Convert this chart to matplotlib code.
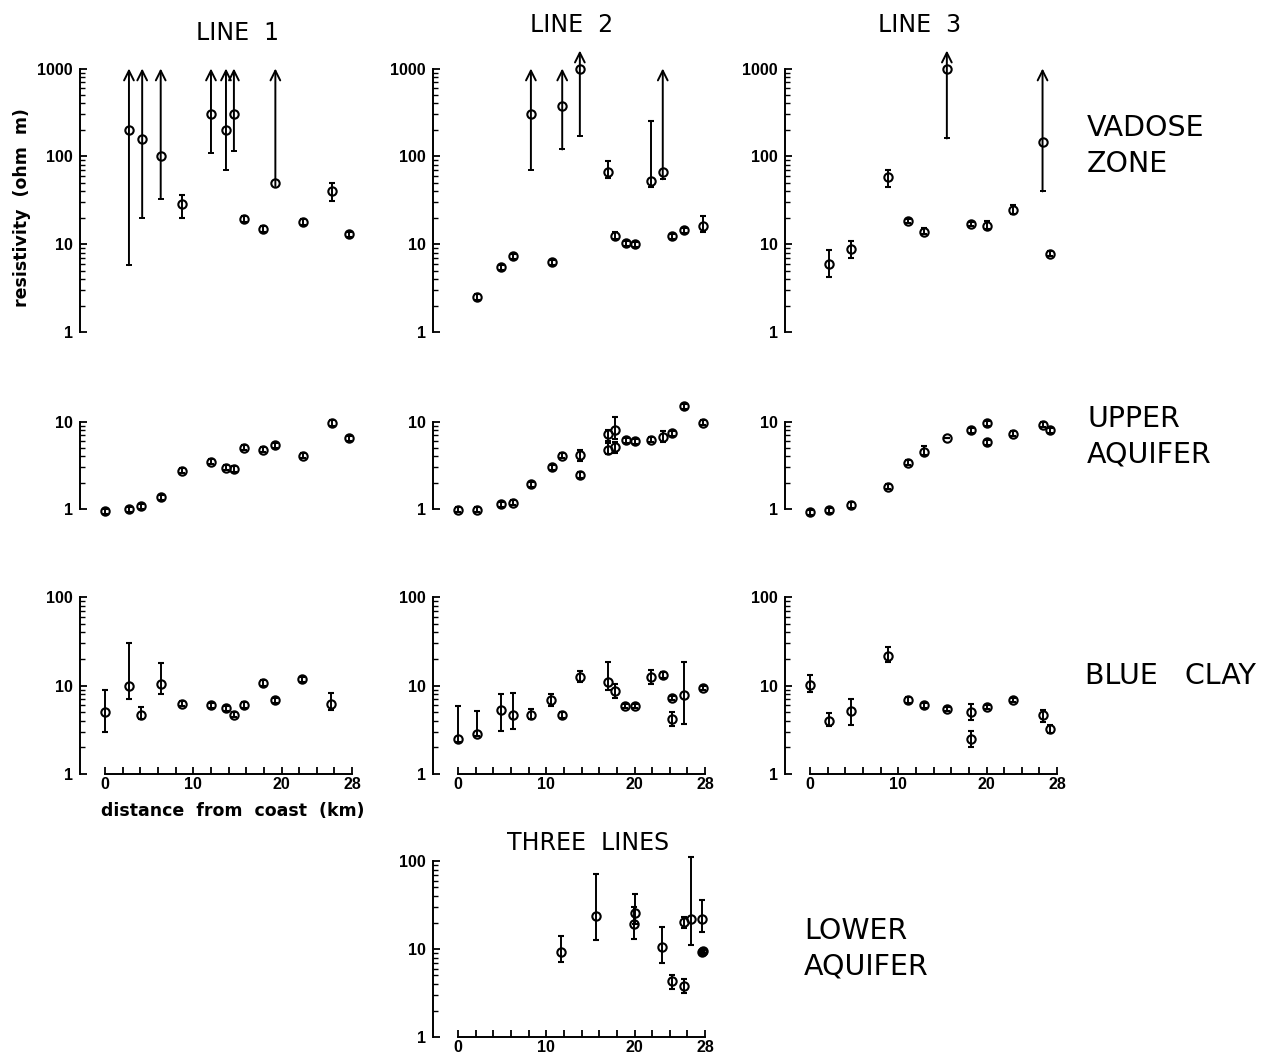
import matplotlib
matplotlib.use("Agg")
import matplotlib.pyplot as plt
from matplotlib.font_manager import FontProperties
from matplotlib.ticker import FixedLocator, FixedFormatter, NullFormatter
import numpy as np

# ---- data: distance from coast (km), resistivity (ohm m), error range ----
# vadose zone
l1_vad_x = [2.7, 4.2, 6.3, 8.7, 12.0, 13.7, 14.6, 15.8, 17.9, 19.3, 22.4, 25.7, 27.6]
l1_vad_v = [200, 157, 100, 29, 300, 200, 300, 19.5, 15, 50, 18, 40, 13]
l1_vad_lo = [5.8, 20, 33, 20, 110, 70, 115, 18, 14, 46, 16.5, 31, 12]
l1_vad_hi = [1000, 1000, 1000, 36, 1000, 1000, 1000, 21, 16, 1000, 19.5, 50, 14]
l1_vad_arrow = [1, 1, 1, 0, 1, 1, 1, 0, 0, 1, 0, 0, 0]

l2_vad_x = [2.1, 4.9, 6.2, 8.25, 10.6, 11.8, 13.8, 17.0, 17.8, 19.0, 20.0, 21.9, 23.2, 24.2, 25.6, 27.8]
l2_vad_v = [2.5, 5.5, 7.3, 300, 6.3, 375, 1000, 67, 12.5, 10.3, 10, 52, 67, 12.3, 14.5, 16]
l2_vad_lo = [2.3, 5.1, 6.8, 70, 5.9, 120, 170, 57, 11.5, 9.6, 9.3, 45, 55, 11.5, 13.5, 14]
l2_vad_hi = [2.7, 5.9, 7.8, 1000, 6.7, 1000, 1600, 89, 14, 11, 10.7, 250, 1000, 13.2, 15.5, 21]
l2_vad_arrow = [0, 0, 0, 1, 0, 1, 1, 0, 0, 0, 0, 0, 1, 0, 0, 0]

l3_vad_x = [2.15, 4.6, 8.8, 11.05, 12.9, 15.5, 18.2, 20.0, 23.0, 26.35, 27.15]
l3_vad_v = [6.0, 8.8, 58, 18.5, 14, 1000, 17, 16, 24.5, 145, 7.8]
l3_vad_lo = [4.2, 7.0, 45, 17.5, 13, 160, 16, 15, 22, 40, 7.3]
l3_vad_hi = [8.7, 10.8, 70, 19.5, 15.2, 1600, 18, 18.5, 28, 1000, 8.3]
l3_vad_arrow = [0, 0, 0, 0, 0, 1, 0, 0, 0, 1, 0]

# upper aquifer
l1_up_x = [0, 2.7, 4.1, 6.3, 8.7, 12.05, 13.75, 14.6, 15.8, 17.95, 19.3, 22.4, 25.7, 27.6]
l1_up_v = [0.94, 0.99, 1.08, 1.37, 2.75, 3.48, 2.97, 2.87, 5.0, 4.74, 5.36, 4.05, 9.6, 6.4]
l1_up_lo = [0.88, 0.93, 1.01, 1.28, 2.57, 3.25, 2.78, 2.68, 4.68, 4.43, 5.0, 3.79, 9.0, 6.0]
l1_up_hi = [1.0, 1.06, 1.15, 1.46, 2.94, 3.72, 3.18, 3.07, 5.35, 5.07, 5.73, 4.33, 10.3, 6.85]

l2_up_x = [0, 2.1, 4.9, 6.2, 8.25, 10.6, 11.8, 13.8, 13.8, 17.0, 17.0, 17.8, 17.8,
           19.0, 20.0, 21.9, 23.2, 24.2, 25.6, 27.8]
l2_up_v = [0.98, 0.98, 1.13, 1.18, 1.93, 3.0, 4.05, 4.19, 2.45, 7.2, 4.7, 7.9, 5.1,
           6.1, 5.95, 6.2, 6.6, 7.35, 15.0, 9.7]
l2_up_lo = [0.92, 0.92, 1.06, 1.1, 1.8, 2.8, 3.8, 3.5, 2.28, 6.0, 4.3, 6.3, 4.4,
            5.7, 5.55, 5.8, 5.8, 6.9, 14.0, 9.1]
l2_up_hi = [1.05, 1.05, 1.21, 1.26, 2.06, 3.2, 4.33, 4.7, 2.62, 7.9, 5.7, 11.4, 5.9,
            6.5, 6.35, 6.6, 7.7, 7.85, 16.0, 10.4]

l3_up_x = [0, 2.15, 4.6, 8.8, 11.05, 12.9, 15.5, 18.2, 20.0, 20.0, 23.0, 26.35, 27.15]
l3_up_v = [0.92, 0.97, 1.11, 1.80, 3.39, 4.46, 6.56, 7.9, 9.5, 5.8, 7.2, 9.15, 7.95]
l3_up_lo = [0.86, 0.91, 1.04, 1.68, 3.17, 4.1, 6.56, 7.4, 8.9, 5.4, 6.75, 8.55, 7.45]
l3_up_hi = [0.98, 1.04, 1.19, 1.93, 3.63, 5.2, 6.56, 8.45, 10.2, 6.2, 7.7, 9.8, 8.5]

# blue clay
l1_bc_x = [0, 2.65, 4.1, 6.3, 8.7, 12.0, 13.7, 14.6, 15.8, 17.9, 19.3, 22.3, 25.6]
l1_bc_v = [4.96, 10, 4.6, 10.4, 6.2, 5.95, 5.5, 4.7, 6.05, 10.7, 6.8, 11.7, 6.2]
l1_bc_lo = [3.0, 7.0, 4.2, 8.0, 5.8, 5.6, 5.1, 4.4, 5.6, 10.0, 6.3, 11.0, 5.3]
l1_bc_hi = [9.0, 30, 5.7, 18, 6.6, 6.4, 5.9, 5.0, 6.5, 11.5, 7.3, 12.5, 8.3]

l2_bc_x = [0, 2.1, 4.9, 6.2, 8.25, 10.55, 11.8, 13.8, 16.95, 17.8, 18.95, 20.0,
           21.9, 23.2, 24.2, 24.2, 25.6, 27.8]
l2_bc_v = [2.47, 2.84, 5.26, 4.7, 4.6, 6.77, 4.6, 12.4, 10.9, 8.7, 5.9, 5.8,
           12.4, 13.2, 7.2, 4.2, 7.9, 9.4]
l2_bc_lo = [2.3, 2.7, 3.1, 3.2, 4.2, 5.8, 4.3, 11, 9, 7.2, 5.6, 5.5,
            10.5, 12.3, 6.8, 3.5, 3.7, 8.9]
l2_bc_hi = [5.9, 5.2, 8.0, 8.2, 5.4, 8.0, 5.0, 14.5, 18.5, 10.5, 6.2, 6.1,
            15, 14.3, 7.6, 5.0, 18.5, 9.9]

l3_bc_x = [0, 2.15, 4.6, 8.8, 11.05, 12.9, 15.5, 18.2, 18.2, 20.0, 23.0, 26.4, 27.2]
l3_bc_v = [10.2, 4.0, 5.1, 21.8, 6.9, 5.95, 5.4, 5.04, 2.47, 5.7, 6.9, 4.65, 3.23]
l3_bc_lo = [8.5, 3.5, 3.6, 18.5, 6.4, 5.6, 5.1, 4.1, 2.0, 5.4, 6.5, 3.9, 2.9]
l3_bc_hi = [13, 4.9, 7.0, 27, 7.4, 6.3, 5.7, 6.2, 3.1, 6.0, 7.3, 5.3, 3.6]

# lower aquifer (three lines)
low_x = [11.7, 15.6, 19.95, 20.05, 23.1, 24.2, 25.65, 25.65, 26.45, 27.65, 27.65, 27.8]
low_v = [9.2, 24, 19.4, 25.7, 10.5, 4.3, 3.76, 20.2, 21.8, 21.7, 9.2, 9.5]
low_lo = [7.2, 12.5, 13, 19, 7, 3.5, 3.2, 17.5, 11, 15.5, 8.8, 9.0]
low_hi = [13.9, 72, 30, 42, 18, 5.0, 4.6, 23, 110, 36, 9.6, 10]

x_ticks = [0, 10, 20, 28]
x_tick_labels = ["0", "10", "20", "28"]

W, H = 1267, 1055
fig = plt.figure(figsize=(W / 100, H / 100), dpi=100)

TICK_FONT = dict(family="Liberation Sans", weight="bold", size=11.5)
TITLE_FONT = dict(family="DejaVu Sans", size=17)
SIDE_FONT = dict(family="DejaVu Sans", size=20.5)
LABEL_FONT = dict(family="DejaVu Sans", weight="bold", size=12.5)
XMIN, XMAX = -2.85, 28.5
PX_PER_KM = 8.82


def add_panel(left, top, bottom, ymax, xaxis=False):
    width = (XMAX - XMIN) * PX_PER_KM
    ax = fig.add_axes([left / W, 1 - bottom / H, width / W, (bottom - top) / H])
    ax.set_yscale("log")
    ax.set_ylim(1, ymax)
    ax.set_xlim(XMIN, XMAX)
    ax.patch.set_visible(False)
    for s in ["top", "right"]:
        ax.spines[s].set_visible(False)
    ax.spines["left"].set_bounds(1, ymax)
    ax.spines["left"].set_linewidth(1.4)
    decades = [10 ** k for k in range(int(round(np.log10(ymax))) + 1)]
    ax.yaxis.set_major_locator(FixedLocator(decades))
    ax.yaxis.set_major_formatter(FixedFormatter([str(d) for d in decades]))
    minors = [m * d for d in decades[:-1] for m in range(2, 10)]
    ax.yaxis.set_minor_locator(FixedLocator(minors))
    ax.yaxis.set_minor_formatter(NullFormatter())
    ax.tick_params(axis="y", which="major", direction="in", length=5, width=1.3, pad=5)
    ax.tick_params(axis="y", which="minor", direction="in", length=3.5, width=1.0)
    for lab in ax.get_yticklabels():
        lab.set_fontproperties(FontProperties(**TICK_FONT))
    if xaxis:
        ax.spines["bottom"].set_bounds(0, 28)
        ax.spines["bottom"].set_linewidth(1.4)
        ax.xaxis.set_major_locator(FixedLocator(x_ticks))
        ax.xaxis.set_major_formatter(FixedFormatter(x_tick_labels))
        ax.xaxis.set_minor_locator(FixedLocator(list(range(0, 29, 2))))
        ax.tick_params(axis="x", which="both", direction="in", length=5, width=1.3, pad=2)
        for lab in ax.get_xticklabels():
            lab.set_fontproperties(FontProperties(**TICK_FONT))
    else:
        ax.spines["bottom"].set_visible(False)
        ax.set_xticks([])
    return ax


def draw_points(ax, x, v, lo, hi, arrow=None):
    x = np.asarray(x, float)
    v = np.asarray(v, float)
    lo = np.asarray(lo, float)
    hi = np.asarray(hi, float)
    if arrow is None:
        arrow = np.zeros(len(x), bool)
    arrow = np.asarray(arrow, bool)
    ok = ~arrow
    ax.errorbar(x[ok], v[ok], yerr=[v[ok] - lo[ok], hi[ok] - v[ok]], fmt="o",
                ms=6, mfc="none", mec="k", mew=1.5, ecolor="k",
                elinewidth=1.4, capsize=2.2, capthick=1.4, clip_on=False)
    for xi, vi, li, hi_ in zip(x[arrow], v[arrow], lo[arrow], hi[arrow]):
        ax.annotate("", xy=(xi, hi_), xytext=(xi, li),
                    arrowprops=dict(arrowstyle="->,head_length=0.5,head_width=0.25",
                                    lw=1.4, color="k", shrinkA=0, shrinkB=0,
                                    mutation_scale=14),
                    annotation_clip=False)
        ax.plot([xi], [li], marker="_", ms=5, mew=1.4, color="k", clip_on=False)
        ax.plot([xi], [vi], "o", ms=6, mfc="white", mec="k", mew=1.5, clip_on=False)


lefts = [80, 433, 785]
rows = [(68.5, 332.3, 1000), (421.5, 509, 10), (597, 774, 100)]

panels = [
    [(l1_vad_x, l1_vad_v, l1_vad_lo, l1_vad_hi, l1_vad_arrow),
     (l2_vad_x, l2_vad_v, l2_vad_lo, l2_vad_hi, l2_vad_arrow),
     (l3_vad_x, l3_vad_v, l3_vad_lo, l3_vad_hi, l3_vad_arrow)],
    [(l1_up_x, l1_up_v, l1_up_lo, l1_up_hi, None),
     (l2_up_x, l2_up_v, l2_up_lo, l2_up_hi, None),
     (l3_up_x, l3_up_v, l3_up_lo, l3_up_hi, None)],
    [(l1_bc_x, l1_bc_v, l1_bc_lo, l1_bc_hi, None),
     (l2_bc_x, l2_bc_v, l2_bc_lo, l2_bc_hi, None),
     (l3_bc_x, l3_bc_v, l3_bc_lo, l3_bc_hi, None)],
]

for r, (top, bottom, ymax) in enumerate(rows):
    for c, left in enumerate(lefts):
        ax = add_panel(left, top, bottom, ymax, xaxis=(r == 2))
        draw_points(ax, *panels[r][c])

ax_low = add_panel(433, 861, 1037, 100, xaxis=True)
draw_points(ax_low, low_x, low_v, low_lo, low_hi)


def ftext(x, y, s, **kw):
    fig.text(x / W, 1 - y / H, s, **kw)


# column titles
ftext(237, 40.5, "LINE  1", ha="center", va="baseline", **TITLE_FONT)
ftext(572, 32, "LINE  2", ha="center", va="baseline", **TITLE_FONT)
ftext(920, 32, "LINE  3", ha="center", va="baseline", **TITLE_FONT)
ftext(588, 850.5, "THREE  LINES", ha="center", va="baseline", **TITLE_FONT)

# layer labels
ftext(1087, 136, "VADOSE", ha="left", va="baseline", **SIDE_FONT)
ftext(1087, 171.5, "ZONE", ha="left", va="baseline", **SIDE_FONT)
ftext(1087, 427, "UPPER", ha="left", va="baseline", **SIDE_FONT)
ftext(1087, 462, "AQUIFER", ha="left", va="baseline", **SIDE_FONT)
ftext(1085, 684, "BLUE   CLAY", ha="left", va="baseline", **SIDE_FONT)
ftext(804, 939, "LOWER", ha="left", va="baseline", **SIDE_FONT)
ftext(804, 974, "AQUIFER", ha="left", va="baseline", **SIDE_FONT)

# axis labels
ftext(22, 208, "resistivity  (ohm  m)", ha="center", va="center", rotation=90, **LABEL_FONT)
ftext(233, 811, "distance  from  coast  (km)", ha="center", va="center", **LABEL_FONT)

fig.savefig("out.png", dpi=100)
